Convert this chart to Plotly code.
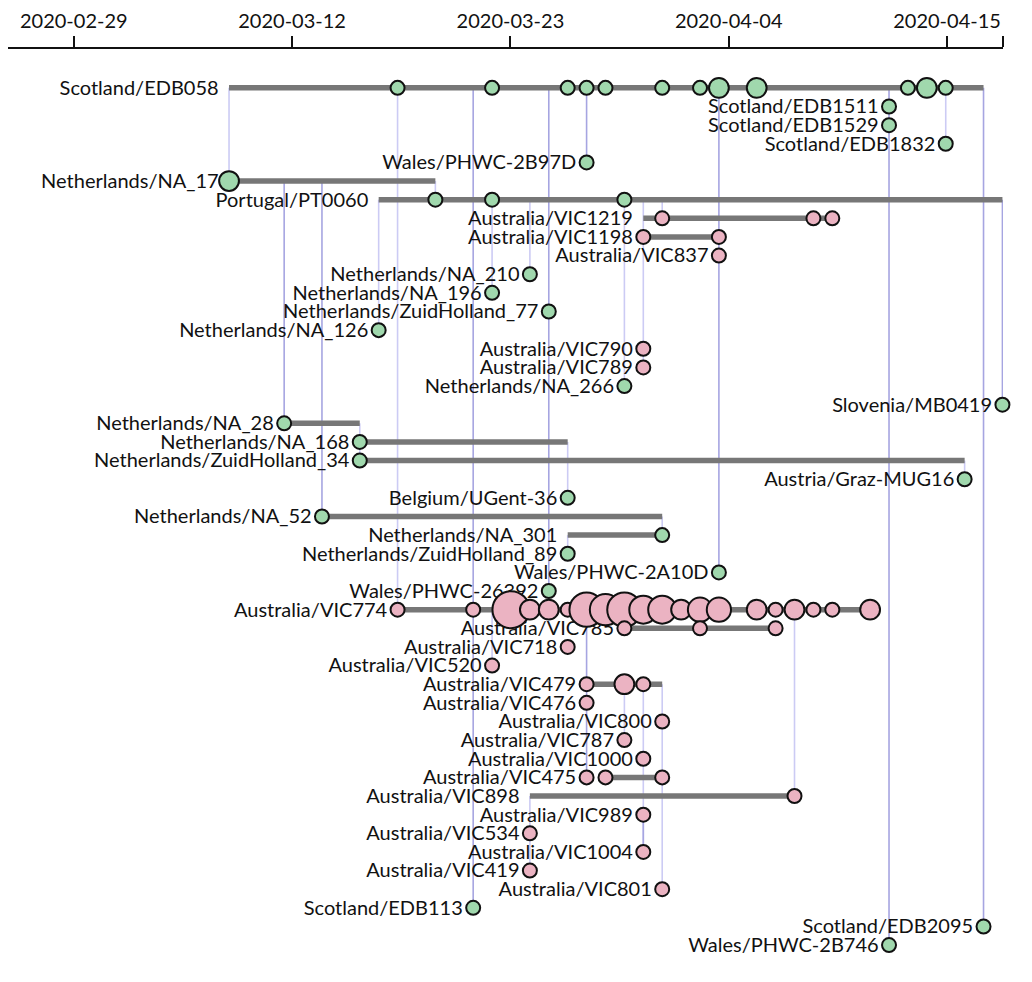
import math
import pandas as pd
import plotly.graph_objects as go

# ---------------- data ----------------
row_names = [
    "Scotland/EDB058", "Scotland/EDB1511", "Scotland/EDB1529", "Scotland/EDB1832",
    "Wales/PHWC-2B97D", "Netherlands/NA_17", "Portugal/PT0060", "Australia/VIC1219",
    "Australia/VIC1198", "Australia/VIC837", "Netherlands/NA_210", "Netherlands/NA_196",
    "Netherlands/ZuidHolland_77", "Netherlands/NA_126", "Australia/VIC790", "Australia/VIC789",
    "Netherlands/NA_266", "Slovenia/MB0419", "Netherlands/NA_28", "Netherlands/NA_168",
    "Netherlands/ZuidHolland_34", "Austria/Graz-MUG16", "Belgium/UGent-36", "Netherlands/NA_52",
    "Netherlands/NA_301", "Netherlands/ZuidHolland_89", "Wales/PHWC-2A10D", "Wales/PHWC-26392",
    "Australia/VIC774", "Australia/VIC785", "Australia/VIC718", "Australia/VIC520",
    "Australia/VIC479", "Australia/VIC476", "Australia/VIC800", "Australia/VIC787",
    "Australia/VIC1000", "Australia/VIC475", "Australia/VIC898", "Australia/VIC989",
    "Australia/VIC534", "Australia/VIC1004", "Australia/VIC419", "Australia/VIC801",
    "Scotland/EDB113", "Scotland/EDB2095", "Wales/PHWC-2B746",
]
# group of each row: E = Europe, A = Australia
row_group = list("EEEEEEEAAAEEEEAAEEEEEEEEEEEEAAAAAAAAAAAAAAAAEEE")

# horizontal lineage spans
span_row = [0, 5, 6, 7, 8, 18, 19, 20, 23, 24, 28, 29, 32, 37, 38]
span_start = ["2020-03-08 02:00", "2020-03-08 02:00", "2020-03-16", "2020-03-30", "2020-03-30",
              "2020-03-11", "2020-03-15", "2020-03-15", "2020-03-13", "2020-03-26",
              "2020-03-17", "2020-03-29", "2020-03-27", "2020-03-28", "2020-03-24"]
span_end = ["2020-04-17", "2020-03-19", "2020-04-18", "2020-04-09", "2020-04-03",
            "2020-03-15", "2020-03-26", "2020-04-16", "2020-03-31", "2020-03-31",
            "2020-04-11", "2020-04-06", "2020-03-31", "2020-03-31", "2020-04-07"]

# sampled sequences: row, date, count
sample_row = (
    [0] * 12 + [1, 2, 3, 4, 5] + [6] * 3 + [7] * 3 + [8] * 2 + [9, 10, 11, 12, 13, 14, 15, 16, 17,
    18, 19, 20, 21, 22, 23, 24, 25, 26, 27] + [28] * 20 + [29] * 3 + [30, 31] + [32] * 3 +
    [33, 34, 35, 36] + [37] * 3 + [38, 39, 40, 41, 42, 43, 44, 45, 46]
)
sample_date = [
    # Scotland/EDB058
    "2020-03-17", "2020-03-22", "2020-03-26", "2020-03-27", "2020-03-28", "2020-03-31",
    "2020-04-02", "2020-04-03", "2020-04-05", "2020-04-13", "2020-04-14", "2020-04-15",
    "2020-04-12", "2020-04-12", "2020-04-15", "2020-03-27", "2020-03-08 02:00",
    # Portugal
    "2020-03-19", "2020-03-22", "2020-03-29",
    # VIC1219
    "2020-03-31", "2020-04-08", "2020-04-09",
    # VIC1198
    "2020-03-30", "2020-04-03",
    "2020-04-03", "2020-03-24", "2020-03-22", "2020-03-25", "2020-03-16", "2020-03-30",
    "2020-03-30", "2020-03-29", "2020-04-18",
    "2020-03-11", "2020-03-15", "2020-03-15", "2020-04-16", "2020-03-26", "2020-03-13",
    "2020-03-31", "2020-03-26", "2020-04-03", "2020-03-25",
    # VIC774
    "2020-03-17", "2020-03-21", "2020-03-23", "2020-03-24", "2020-03-25", "2020-03-26",
    "2020-03-27", "2020-03-28", "2020-03-29", "2020-03-30", "2020-03-31", "2020-04-01",
    "2020-04-02", "2020-04-03", "2020-04-05", "2020-04-06", "2020-04-07", "2020-04-08",
    "2020-04-09", "2020-04-11",
    # VIC785
    "2020-03-29", "2020-04-02", "2020-04-06",
    "2020-03-26", "2020-03-22",
    # VIC479
    "2020-03-27", "2020-03-29", "2020-03-30",
    "2020-03-27", "2020-03-31", "2020-03-29", "2020-03-30",
    # VIC475
    "2020-03-27", "2020-03-28", "2020-03-31",
    "2020-04-07", "2020-03-30", "2020-03-24", "2020-03-30", "2020-03-24", "2020-03-31",
    "2020-03-21", "2020-04-17", "2020-04-12",
]
sample_count = (
    [1, 1, 1, 1, 1, 1, 1, 2, 2, 1, 2, 1] + [1, 1, 1, 1, 2] + [1, 1, 1] + [1, 1, 1] + [1, 1] +
    [1] * 19 +
    [1, 1, 7, 2, 2, 1, 6, 5, 6, 4, 4, 2, 3, 3, 2, 1, 2, 1, 1, 2] +
    [1, 1, 1] + [1, 1] + [1, 2, 1] + [1, 1, 1, 1] + [1, 1, 1] + [1] * 9
)

# vertical links: date, row a, row b, strength (0 light, 1 strong)
link_date = ["2020-03-08 02:00", "2020-03-11", "2020-03-13", "2020-03-15", "2020-03-16",
             "2020-03-17", "2020-03-19", "2020-03-21", "2020-03-22", "2020-03-22",
             "2020-03-24", "2020-03-24", "2020-03-25", "2020-03-26", "2020-03-26",
             "2020-03-27", "2020-03-27", "2020-03-29", "2020-03-29", "2020-03-29",
             "2020-03-30", "2020-03-30", "2020-03-30", "2020-03-31", "2020-03-31",
             "2020-03-31", "2020-04-03", "2020-04-07", "2020-04-12", "2020-04-15",
             "2020-04-16", "2020-04-17", "2020-04-18"]
link_a = [0, 5, 5, 18, 6, 0, 5, 0, 6, 28, 6, 38, 0, 19, 24, 0, 28, 6, 28, 32,
          6, 32, 39, 6, 23, 32, 0, 28, 0, 0, 20, 0, 6]
link_b = [5, 18, 23, 20, 13, 28, 6, 44, 11, 31, 10, 42, 27, 22, 25, 4, 37, 16, 29, 35,
          15, 41, 41, 7, 24, 43, 26, 38, 46, 3, 21, 45, 17]
link_strength = [0, 1, 1, 0, 0, 0, 0, 1, 0, 0, 0, 0, 1, 0, 0, 1, 1, 0, 0, 0,
                 0, 0, 1, 0, 0, 0, 1, 0, 1, 0, 0, 1, 1]

tick_labels = ["2020-02-29", "2020-03-12", "2020-03-23", "2020-04-04", "2020-04-15"]

# ---------------- styling / scales ----------------
FONT = "Lato"
GROUP_FILL = {"E": "#a0d8ad", "A": "#ebb3c2"}
LINK_COLOR = {0: "#cccbf4", 1: "#a6a5e1"}

origin = pd.Timestamp("2020-02-29")
def day(d):
    return origin + pd.Timedelta(days=d)

tick_pos = [day(v) for v in (-0.13, 11.42, 22.97, 34.52, 46.07)]
x_range = [day(-3.61), day(49.03)]

fig = go.Figure()

# vertical links
for s in (0, 1):
    xs, ys = [], []
    for d, a, b, st in zip(link_date, link_a, link_b, link_strength):
        if st != s:
            continue
        xs += [d, d, None]
        ys += [a, b, None]
    fig.add_trace(go.Scatter(x=xs, y=ys, mode="lines",
                             line=dict(color=LINK_COLOR[s], width=1.6),
                             hoverinfo="skip", showlegend=False))

# horizontal spans
xs, ys = [], []
for r, a, b in zip(span_row, span_start, span_end):
    xs += [a, b, None]
    ys += [r, r, None]
fig.add_trace(go.Scatter(x=xs, y=ys, mode="lines",
                         line=dict(color="#777777", width=5.5),
                         hoverinfo="skip", showlegend=False))

# row labels at the start of each row
row_start = {}
for r, a in zip(span_row, span_start):
    t = pd.Timestamp(a)
    row_start[r] = min(row_start.get(r, t), t)
for r, a in zip(sample_row, sample_date):
    t = pd.Timestamp(a)
    row_start[r] = min(row_start.get(r, t), t)
lab_rows = list(range(len(row_names)))
fig.add_trace(go.Scatter(
    x=[row_start[r] for r in lab_rows],
    y=[r + 0.1 for r in lab_rows],
    text=row_names, mode="markers+text", textposition="middle left",
    marker=dict(size=15, opacity=0),
    textfont=dict(family=FONT, size=20, color="#111111"),
    hoverinfo="skip", showlegend=False, cliponaxis=False))

# sample circles
fig.add_trace(go.Scatter(
    x=sample_date, y=sample_row, mode="markers",
    marker=dict(size=[14 * math.sqrt(c) for c in sample_count],
                color=[GROUP_FILL[row_group[r]] for r in sample_row],
                line=dict(color="#111111", width=2), opacity=1),
    hoverinfo="skip", showlegend=False, cliponaxis=False))

fig.update_layout(
    width=1024, height=974,
    margin=dict(l=0, r=29, t=38, b=0),
    paper_bgcolor="white", plot_bgcolor="white",
    font=dict(family=FONT, color="#111111"),
    xaxis=dict(type="date", side="top", range=x_range,
               tickvals=tick_pos + [day(49.02)], ticktext=tick_labels + [""],
               showline=True, linecolor="#111111", linewidth=2,
               ticks="outside", ticklen=11, tickwidth=2, tickcolor="#111111",
               tickfont=dict(family=FONT, size=20, color="#111111"),
               showgrid=False, zeroline=False),
    yaxis=dict(range=[47.98, -2.086], visible=False, showgrid=False, zeroline=False),
)

fig.write_html("out.html")
